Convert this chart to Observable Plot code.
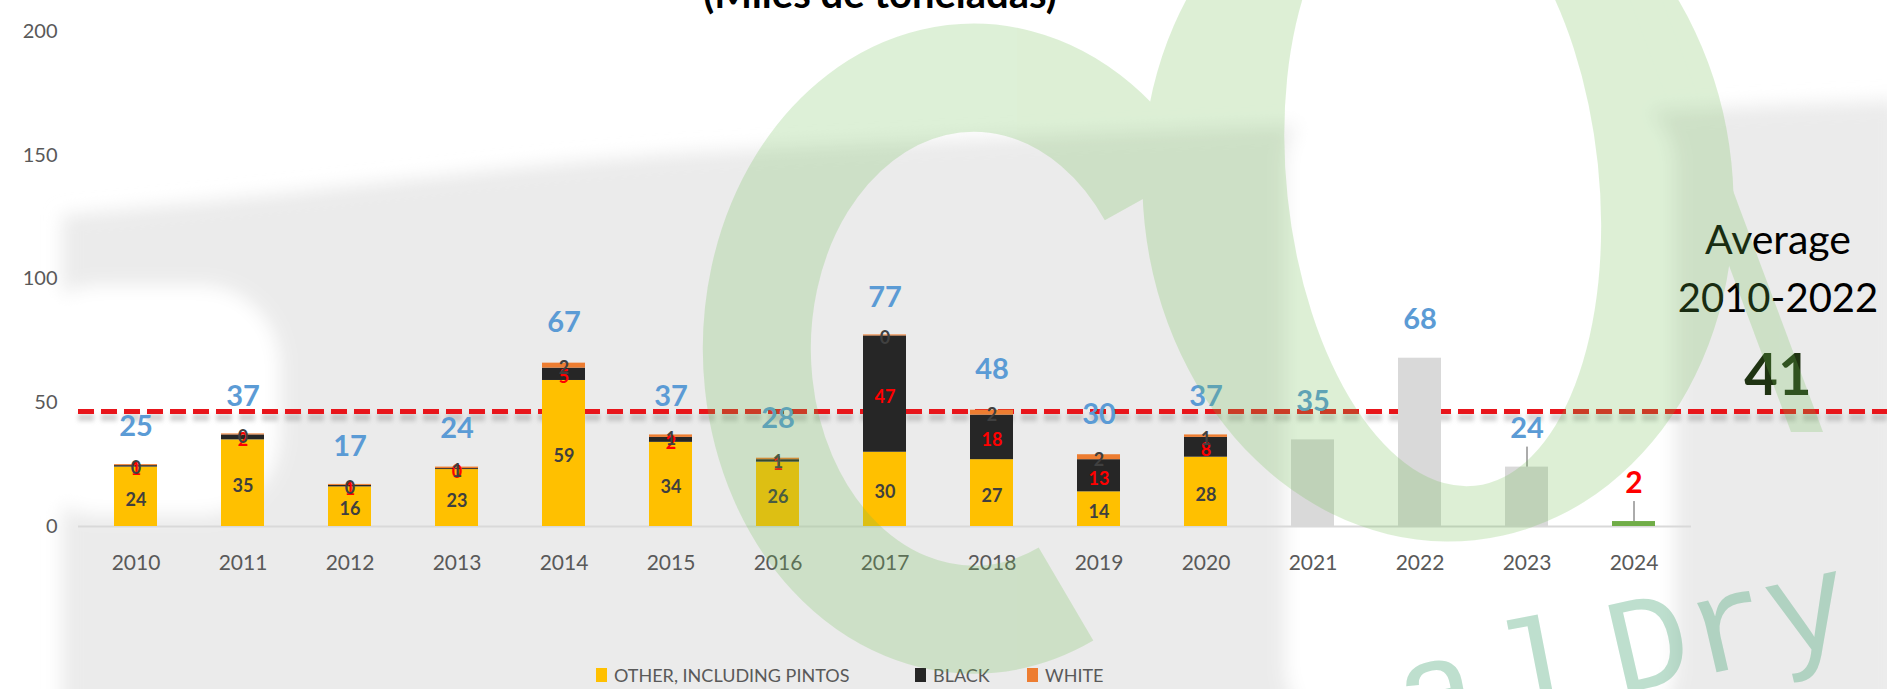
<!DOCTYPE html>
<html><head><meta charset="utf-8">
<script src="https://cdn.jsdelivr.net/npm/d3@7"></script>
<script src="https://cdn.jsdelivr.net/npm/@observablehq/plot@0.6"></script>
<style>
html,body{margin:0;padding:0;background:#fff;}
#wrap{position:relative;width:1887px;height:689px;overflow:hidden;font-family:Lato,"Open Sans",sans-serif;}
#bg,#wm{position:absolute;left:0;top:0;}
#chart{position:absolute;left:0;top:0;}
#chart svg{background:transparent;}
.avg{position:absolute;left:1778px;transform:translate(-50%,-50%);white-space:nowrap;color:#000;line-height:1;}
#legend{position:absolute;left:0;top:640px;width:1887px;height:49px;}
.sw{position:absolute;top:28px;width:11px;height:14px;}
.lt{position:absolute;top:35px;transform:translateY(-50%);font-size:18px;color:#595959;line-height:1;white-space:nowrap;}
</style></head>
<body>
<div id="wrap">
<svg id="bg" width="1887" height="689">
 <defs><filter id="bl" x="-20%" y="-20%" width="140%" height="140%"><feGaussianBlur stdDeviation="9"/></filter></defs>
 <g filter="url(#bl)">
  <path d="M62,215 C300,195 500,165 700,152 C1000,135 1500,118 1900,100 L1900,720 L62,720 Z" fill="#ebebeb"/>
  <rect x="20" y="285" width="260" height="230" rx="80" fill="#fff"/>
  <rect x="1285" y="95" width="390" height="640" rx="70" fill="#fff"/>
 </g>
</svg>
<div id="chart"></div>
<div class="avg" style="top:238px;font-size:41px;">Average</div>
<div class="avg" style="top:297px;font-size:40px;">2010-2022</div>
<div class="avg" style="top:373px;font-size:58px;font-weight:bold;color:#1f3312;">41</div>
<div id="legend"></div>
<svg id="wm" width="1887" height="689" style="pointer-events:none">
 <text x="880" y="8" text-anchor="middle" font-family="Lato" font-weight="bold" font-size="40" fill="#000">(Miles de toneladas)</text>
 <g opacity="0.23" fill="rgb(110,190,80)" stroke="rgb(110,190,80)">
  <path d="M1152,194 A217,271 0 1,0 1066,594" fill="none" stroke-width="108" stroke-linecap="butt"/>
  <g transform="rotate(-6 1438 193)" stroke="none" fill-rule="evenodd">
   <path d="M1143,193 a295,349 0 1,0 590,0 a295,349 0 1,0 -590,0 Z M1288,181 a156,307 0 1,0 312,0 a156,307 0 1,0 -312,0 Z"/>
  </g>
  <polygon points="1630,0 1662,0 1823,432 1791,432" stroke="none"/>
 </g>
 <g opacity="0.33" fill="rgb(60,160,110)" font-family="Liberation Mono">
  <text transform="translate(1405,742) rotate(-11)" font-size="138" letter-spacing="22">al</text>
  <text transform="translate(1618,695) rotate(-13)" font-size="136">Dry</text>
 </g>
</svg>
</div>
<script>
// ---- data ----
const years = ["2010","2011","2012","2013","2014","2015","2016","2017","2018","2019","2020","2021","2022","2023","2024"];
const stackYears = ["2010","2011","2012","2013","2014","2015","2016","2017","2018","2019","2020"];
const otherVals = [24, 35, 16, 23, 59, 34, 26, 30, 27, 14, 28];
const blackVals = [0.6, 2, 0.6, 0.4, 5, 2, 1, 47, 18, 13, 8];
const whiteVals = [0.4, 0.4, 0.4, 0.6, 2, 1, 0.6, 0.4, 2, 2, 1];
const laterYears = ["2021","2022","2023","2024"];
const laterVals = [35, 68, 24, 2];
const laterTypes = ["Gray","Gray","Gray","Green"];
const totals = [25, 37, 17, 24, 67, 37, 28, 77, 48, 30, 37, 35, 68, 24, 2];
const avgLine = 46.5;
const yTicks = [0, 50, 100, 150, 200];
const types = ["Other","Black","White","Gray","Green"];
const typeColors = ["#ffc000","#262626","#ed7d31","#d9d9d9","#70ad47"];
const legendItems = [
  {label:"OTHER, INCLUDING PINTOS", color:"#ffc000", sw:596, tx:614},
  {label:"BLACK", color:"#262626", sw:915, tx:933},
  {label:"WHITE", color:"#ed7d31", sw:1027, tx:1045}
];

// ---- tables ----
const rows = [];
stackYears.forEach((y,i)=>{
  rows.push({year:y,type:"Other",value:otherVals[i]});
  rows.push({year:y,type:"Black",value:blackVals[i]});
  rows.push({year:y,type:"White",value:whiteVals[i]});
});
laterYears.forEach((y,i)=>rows.push({year:y,type:laterTypes[i],value:laterVals[i]}));
const totalRows = years.map((y,i)=>({year:y,total:totals[i]}));
const leaders = totalRows.filter(d=>d.year==="2023"||d.year==="2024");

const segLabel = (t)=> d => d.type===t ? String(Math.round(d.value)) : "";
const segText = (t, fill) => Plot.text(rows, Plot.stackY({x:"year", y:"value", z:"type", order:types,
  text: segLabel(t), fill, fontWeight:"bold", fontSize:18, dy:3}));

const chart = Plot.plot({
  width:1887, height:640,
  marginLeft:78, marginRight:196, marginTop:31, marginBottom:114,
  style:{background:"transparent", fontFamily:"Lato, sans-serif", color:"#595959"},
  x:{domain:years, paddingInner:0.6, paddingOuter:0.3, label:null},
  y:{domain:[0,200], label:null},
  color:{domain:types, range:typeColors},
  marks:[
    Plot.axisY({ticks:yTicks, tickSize:0, tickPadding:21, fontSize:20, label:null}),
    Plot.axisX({tickSize:0, tickPadding:29, fontSize:21, label:null}),
    Plot.ruleY([0], {stroke:"#d9d9d9", strokeWidth:2}),
    Plot.ruleY([avgLine], {stroke:"#7f7f7f", strokeOpacity:0.35, strokeWidth:7, strokeDasharray:"16,7", dy:6, insetRight:-196}),
    Plot.ruleY([avgLine], {stroke:"#e8151b", strokeWidth:5, strokeDasharray:"16,7", insetRight:-196}),
    Plot.barY(rows, {x:"year", y:"value", fill:"type", z:"type", order:types}),
    Plot.ruleX(leaders, {x:"year", y1:"total", y2:"total", insetTop:-20, stroke:"#595959", strokeWidth:1}),
    segText("Other", "#3f3f3f"),
    segText("Black", "#ff0000"),
    segText("White", "#404040"),
    Plot.text(totalRows, {filter:d=>d.year!=="2024", x:"year", y:"total", text:d=>String(d.total), dy:-38,
      fill:"#5b9bd5", fontWeight:"bold", fontSize:29}),
    Plot.text(totalRows, {filter:d=>d.year==="2024", x:"year", y:"total", text:d=>String(d.total), dy:-38,
      fill:"#ff0000", fontWeight:"bold", fontSize:30})
  ]
});
document.getElementById("chart").appendChild(chart);
chart.querySelectorAll('g[stroke="#7f7f7f"]').forEach(g=>g.style.filter="blur(2px)");

// ---- legend ----
const lg = document.getElementById("legend");
legendItems.forEach(it=>{
  const s=document.createElement("div"); s.className="sw"; s.style.left=it.sw+"px"; s.style.background=it.color; lg.appendChild(s);
  const t=document.createElement("div"); t.className="lt"; t.style.left=it.tx+"px"; t.textContent=it.label; lg.appendChild(t);
});
</script>
</body></html>
